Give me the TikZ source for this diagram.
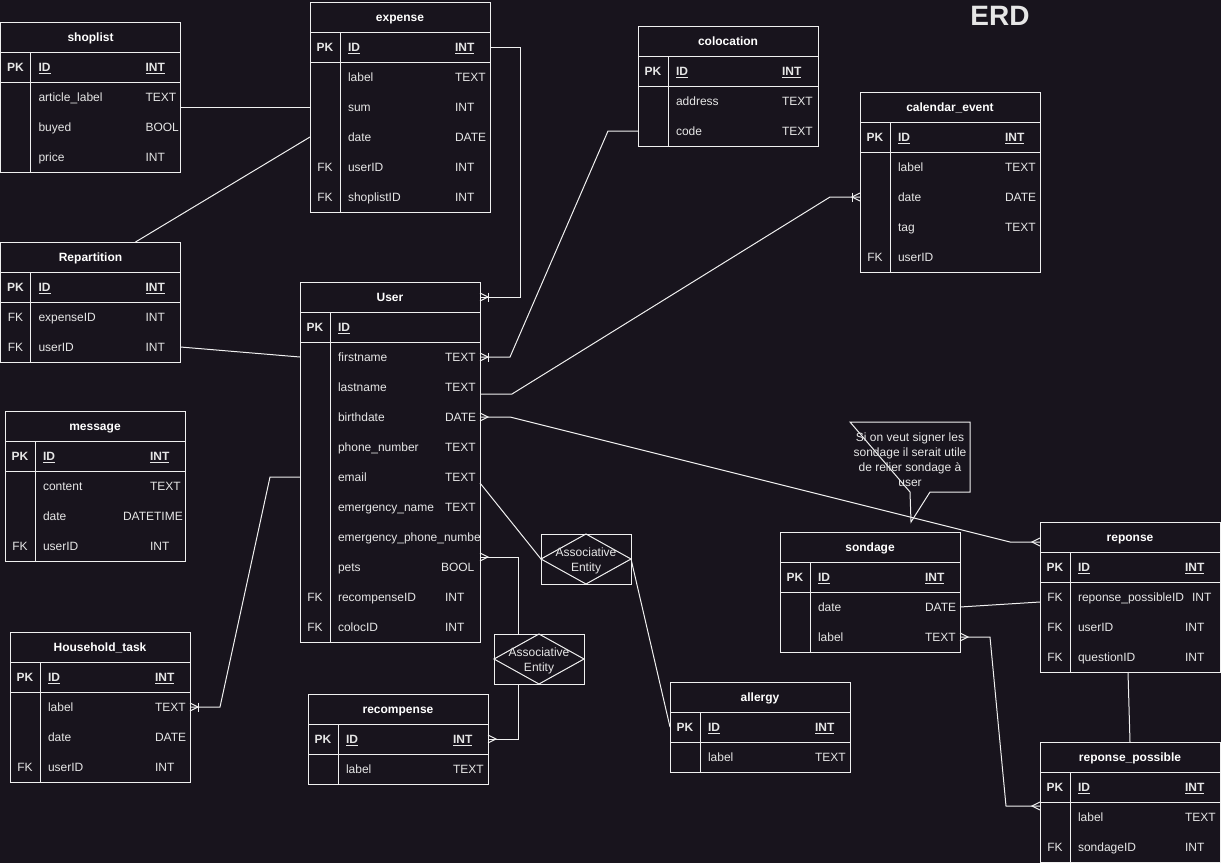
\documentclass[tikz,border=0pt]{standalone}
\usepackage{fontspec}
\setmainfont{Liberation Sans}
\usetikzlibrary{calc}
\definecolor{bg}{HTML}{18141D}
\definecolor{fg}{HTML}{F0F0F0}
\definecolor{txt}{HTML}{E6E6E6}
\tikzset{
  tline/.style={draw=fg, line width=1pt},
  tblframe/.style={draw=fg, line width=1pt, minimum width=180pt, inner sep=0pt, outer sep=0pt, fill=bg},
  ercell/.style={inner sep=0pt, outer sep=0pt, text height=8.6pt, text depth=0pt, font=\fontsize{12}{15}\selectfont, text=txt},
  erhdr/.style={ercell, font=\fontsize{12}{15}\selectfont\bfseries, text=white},
  assocbox/.style={draw=fg, line width=1pt, minimum width=90pt, minimum height=50pt, inner sep=0pt, outer sep=0pt},
  multitext/.style={inner sep=0pt, outer sep=0pt, align=center, font=\fontsize{12}{15}\selectfont, text=txt},
  notebox/.style={minimum width=120pt, minimum height=70pt, inner sep=0pt, outer sep=0pt},
}
\newcommand{\erul}[1]{\underline{\textbf{#1}}}
\newcommand{\ertable}[5]{%
  \node[tblframe, minimum height={30*(#4+1)}, anchor=north west] (#1) at (#2,#3) {};
  \draw[tline] ($(#1.north west)+(0,30)$) -- ($(#1.north east)+(0,30)$);
  \draw[tline] ($(#1.north west)+(0,60)$) -- ($(#1.north east)+(0,60)$);
  \draw[tline] ($(#1.north west)+(30,30)$) -- ($(#1.south west)+(30,0)$);
  \node[erhdr] (#1-title) at ($(#1.north)+(0,15)$) {#5};
  \coordinate (#1-hw) at ($(#1.north west)+(0,15)$);
  \coordinate (#1-he) at ($(#1.north east)+(0,15)$);
}
\newcommand{\errow}[6]{%
  \node[ercell] (#1-#2k) at ($(#1.north west)+(15,45+30*#2)$) {#3};
  \node[ercell, anchor=west] (#1-#2n) at ($(#1.north west)+(38,45+30*#2)$) {#4};
  \node[ercell, anchor=west] (#1-#2t) at ($(#1.north west)+(#6,45+30*#2)$) {#5};
  \coordinate (#1-#2w) at ($(#1.north west)+(0,45+30*#2)$);
  \coordinate (#1-#2e) at ($(#1.north east)+(0,45+30*#2)$);
}
\newcommand{\ermany}[2]{%
  \draw[tline] ($(#1)+(0,-4)$) -- ($(#1)+(#2*8,0)$) -- ($(#1)+(0,4)$);}
\newcommand{\eronemany}[2]{%
  \ermany{#1}{#2}\draw[tline] ($(#1)+(#2*8,-4.5)$) -- ($(#1)+(#2*8,4.5)$);}
\begin{document}
\begin{tikzpicture}[x=1pt,y=-1pt]
\path[fill=bg] (0,0) rectangle (1221,863);
\useasboundingbox (0,0) rectangle (1221,863);

\node[font=\fontsize{28}{30}\selectfont\bfseries, text=txt, inner sep=0pt] (title) at (1000,16) {ERD};

% shoplist
\ertable{shoplist}{0.5}{22}{4}{shoplist}
\errow{shoplist}{0}{\textbf{PK}}{\erul{ID}}{\erul{INT}}{145}
\errow{shoplist}{1}{}{article\_label}{TEXT}{145}
\errow{shoplist}{2}{}{buyed}{BOOL}{145}
\errow{shoplist}{3}{}{price}{INT}{145}

% expense
\ertable{expense}{310}{2}{6}{expense}
\errow{expense}{0}{\textbf{PK}}{\erul{ID}}{\erul{INT}}{145}
\errow{expense}{1}{}{label}{TEXT}{145}
\errow{expense}{2}{}{sum}{INT}{145}
\errow{expense}{3}{}{date}{DATE}{145}
\errow{expense}{4}{FK}{userID}{INT}{145}
\errow{expense}{5}{FK}{shoplistID}{INT}{145}

% colocation
\ertable{colocation}{638}{26}{3}{colocation}
\errow{colocation}{0}{\textbf{PK}}{\erul{ID}}{\erul{INT}}{144}
\errow{colocation}{1}{}{address}{TEXT}{144}
\errow{colocation}{2}{}{code}{TEXT}{144}

% calendar_event
\ertable{calendar}{860}{92}{5}{calendar\_event}
\errow{calendar}{0}{\textbf{PK}}{\erul{ID}}{\erul{INT}}{145}
\errow{calendar}{1}{}{label}{TEXT}{145}
\errow{calendar}{2}{}{date}{DATE}{145}
\errow{calendar}{3}{}{tag}{TEXT}{145}
\errow{calendar}{4}{FK}{userID}{}{145}

% Repartition
\ertable{repartition}{0.5}{242}{3}{Repartition}
\errow{repartition}{0}{\textbf{PK}}{\erul{ID}}{\erul{INT}}{145}
\errow{repartition}{1}{FK}{expenseID}{INT}{145}
\errow{repartition}{2}{FK}{userID}{INT}{145}

% User
\ertable{user}{300}{282}{11}{User}
\errow{user}{0}{\textbf{PK}}{\erul{ID}}{}{145}
\errow{user}{1}{}{firstname}{TEXT}{145}
\errow{user}{2}{}{lastname}{TEXT}{145}
\errow{user}{3}{}{birthdate}{DATE}{145}
\errow{user}{4}{}{phone\_number}{TEXT}{145}
\errow{user}{5}{}{email}{TEXT}{145}
\errow{user}{6}{}{emergency\_name}{TEXT}{145}
\errow{user}{7}{}{emergency\_phone\_numbe}{}{145}
\errow{user}{8}{}{pets}{BOOL}{141}
\errow{user}{9}{FK}{recompenseID}{INT}{145}
\errow{user}{10}{FK}{colocID}{INT}{145}

% message
\ertable{message}{5}{411}{4}{message}
\errow{message}{0}{\textbf{PK}}{\erul{ID}}{\erul{INT}}{145}
\errow{message}{1}{}{content}{TEXT}{145}
\errow{message}{2}{}{date}{DATETIME}{118}
\errow{message}{3}{FK}{userID}{INT}{145}

% Household_task
\ertable{household}{10}{632}{4}{Household\_task}
\errow{household}{0}{\textbf{PK}}{\erul{ID}}{\erul{INT}}{145}
\errow{household}{1}{}{label}{TEXT}{145}
\errow{household}{2}{}{date}{DATE}{145}
\errow{household}{3}{FK}{userID}{INT}{145}

% recompense
\ertable{recompense}{308}{694}{2}{recompense}
\errow{recompense}{0}{\textbf{PK}}{\erul{ID}}{\erul{INT}}{145}
\errow{recompense}{1}{}{label}{TEXT}{145}

% allergy
\ertable{allergy}{670}{682}{2}{allergy}
\errow{allergy}{0}{\textbf{PK}}{\erul{ID}}{\erul{INT}}{145}
\errow{allergy}{1}{}{label}{TEXT}{145}

% sondage
\ertable{sondage}{780}{532}{3}{sondage}
\errow{sondage}{0}{\textbf{PK}}{\erul{ID}}{\erul{INT}}{145}
\errow{sondage}{1}{}{date}{DATE}{145}
\errow{sondage}{2}{}{label}{TEXT}{145}

% reponse
\ertable{reponse}{1040}{522}{4}{reponse}
\errow{reponse}{0}{\textbf{PK}}{\erul{ID}}{\erul{INT}}{145}
\errow{reponse}{1}{FK}{reponse\_possibleID}{INT}{152}
\errow{reponse}{2}{FK}{userID}{INT}{145}
\errow{reponse}{3}{FK}{questionID}{INT}{145}

% reponse_possible
\ertable{rp}{1040}{742}{3}{reponse\_possible}
\errow{rp}{0}{\textbf{PK}}{\erul{ID}}{\erul{INT}}{145}
\errow{rp}{1}{}{label}{TEXT}{145}
\errow{rp}{2}{FK}{sondageID}{INT}{145}

% associative entities
\node[assocbox] (assoc1) at (586,559) {};
\draw[tline] (assoc1.west) -- (assoc1.north) -- (assoc1.east) -- (assoc1.south) -- cycle;
\node[multitext] (assoc1-text) at ($(assoc1.center)+(0,2)$) {Associative\\Entity};
\node[assocbox] (assoc2) at (539,659) {};
\draw[tline] (assoc2.west) -- (assoc2.north) -- (assoc2.east) -- (assoc2.south) -- cycle;
\node[multitext] (assoc2-text) at ($(assoc2.center)+(0,2)$) {Associative\\Entity};

% note callout
\node[notebox] (note) at (910,457) {};
\draw[tline] (note.north west) -- (note.north east) -- (note.south east)
  -- ($(note.south west)+(80,0)$) -- ($(note.south west)+(61,30)$)
  -- ($(note.south west)+(60,0)$) -- cycle;
\node[multitext] (note-text) at ($(note.center)+(0,3)$) {Si on veut signer les\\sondage il serait utile\\de relier sondage à\\user};

% connectors
\draw[tline] (shoplist.east |- expense-2w) -- (expense-2w);
\draw[tline] ($(repartition.north west)+(135,0)$) -- (expense-3w);

\draw[tline] (expense-0e) -- ++(30,0) |- (user-he);
\eronemany{user-he}{1}

\draw[tline] (colocation-2w) -- ++(-30,0) -- ($(user-1e)+(30,0)$) -- (user-1e);
\eronemany{user-1e}{1}

\coordinate (ln) at ($(user-2e)+(0,7)$);
\draw[tline] (calendar-2w) -- ++(-30,0) -- ($(ln)+(32,0)$) -- (ln);
\eronemany{calendar-2w}{-1}

\coordinate (rh) at ($(reponse-hw)+(0,5)$);
\draw[tline] (user-3e) -- ++(30,0) -- ($(rh)+(-30,0)$) -- (rh);
\ermany{user-3e}{1}
\ermany{rh}{-1}

\draw[tline] (household-1e) -- ++(30,0) -- ($(user-5w)+(-30,0)$) -- (user-5w);
\eronemany{household-1e}{1}

\draw[tline] (repartition-2e) -- (user-1w);

\draw[tline] ($(user-5e)+(0,6)$) -- (assoc1.west);
\draw[tline] (assoc1.east) -- (allergy-0w);

\coordinate (pp) at ($(user-8e)+(0,-10)$);
\coordinate (pk) at ($(pp)+(38,0)$);
\draw[tline] (pp) -- (pk) -- (pk |- assoc2.north);
\draw[tline] (pk |- assoc2.south) |- (recompense-0e);
\ermany{pp}{1}
\ermany{recompense-0e}{1}

\draw[tline] (sondage-1e) -- ($(reponse-1w)+(0,5)$);

\coordinate (rpin) at ($(rp-0w)+(0,19)$);
\draw[tline] (sondage-2e) -- ++(30,0) -- ($(rpin)+(-34,0)$) -- (rpin);
\ermany{sondage-2e}{1}
\ermany{rpin}{-1}

\draw[tline] ($(reponse.south)+(-2,0)$) -- (rp.north);
\end{tikzpicture}
\end{document}
